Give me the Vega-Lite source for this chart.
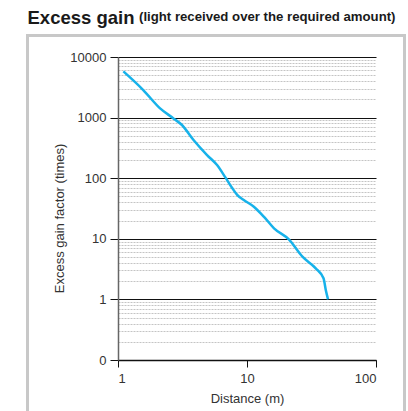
{
  "$schema": "https://vega.github.io/schema/vega-lite/v6.json",
  "autosize": "none",
  "padding": {"left": 118, "top": 57, "right": 32, "bottom": 51},
  "width": 258,
  "height": 303,
  "background": "white",
  "title": {
    "text": "(light received over the required amount)",
    "anchor": "start",
    "frame": "group",
    "dx": 21,
    "offset": 0,
    "dy": 15,
    "font": "Liberation Sans",
    "fontSize": 13.2,
    "fontWeight": "bold",
    "color": "#1a1a1a"
  },
  "data": {
    "values": [
      {"distance": 1.1, "gain": 5800},
      {"distance": 1.57, "gain": 2850},
      {"distance": 2.12, "gain": 1420},
      {"distance": 2.69, "gain": 970},
      {"distance": 3.13, "gain": 755},
      {"distance": 3.85, "gain": 427},
      {"distance": 4.9, "gain": 241},
      {"distance": 5.86, "gain": 165},
      {"distance": 6.8, "gain": 103},
      {"distance": 7.67, "gain": 69},
      {"distance": 8.39, "gain": 53},
      {"distance": 9.44, "gain": 43.7},
      {"distance": 11.3, "gain": 33.9},
      {"distance": 13.5, "gain": 23.2},
      {"distance": 16.2, "gain": 14.9},
      {"distance": 21.1, "gain": 9.8},
      {"distance": 26.9, "gain": 5.07},
      {"distance": 34.1, "gain": 3.26},
      {"distance": 39.2, "gain": 2.23},
      {"distance": 40.8, "gain": 1.43},
      {"distance": 42.5, "gain": 1.0}
    ]
  },
  "encoding": {
    "x": {
      "field": "distance",
      "type": "quantitative",
      "scale": {"type": "log", "domain": [1, 100], "nice": false},
      "axis": {
        "title": "Distance (m)",
        "values": [1, 10, 100],
        "format": "d",
        "grid": false,
        "domainColor": "#111",
        "domainWidth": 1.5,
        "tickColor": "#111",
        "tickWidth": 1,
        "tickSize": 7,
        "labelPadding": 5,
        "labelFont": "Liberation Sans",
        "labelFontSize": 13,
        "labelColor": "#333",
        "titleFont": "Liberation Sans",
        "titleFontSize": 13,
        "titleFontWeight": "normal",
        "titleColor": "#333",
        "titlePadding": 7
      }
    },
    "y": {
      "field": "gain",
      "type": "quantitative",
      "scale": {"type": "log", "domain": [0.1, 10000], "nice": false},
      "axis": {
        "title": "Excess gain factor (times)",
        "values": [0.1, 0.2, 0.3, 0.4, 0.5, 0.6, 0.7, 0.8, 0.9, 1, 2, 3, 4, 5, 6, 7, 8, 9, 10, 20, 30, 40, 50, 60, 70, 80, 90, 100, 200, 300, 400, 500, 600, 700, 800, 900, 1000, 2000, 3000, 4000, 5000, 6000, 7000, 8000, 9000, 10000],
        "labelExpr": "indexof([0.1, 1, 10, 100, 1000, 10000], datum.value) >= 0 ? format(datum.value, '.0f') : ''",
        "grid": true,
        "gridColor": {"condition": {"test": "indexof([0.1, 1, 10, 100, 1000, 10000], datum.value) >= 0", "value": "#111"}, "value": "#c4c4c4"},
        "gridDash": {"condition": {"test": "indexof([0.1, 1, 10, 100, 1000, 10000], datum.value) >= 0", "value": []}, "value": [2, 1]},
        "gridWidth": 1,
        "domainColor": "#666",
        "domainWidth": 1.5,
        "tickColor": "#111",
        "tickOpacity": {"condition": {"test": "indexof([0.1, 1, 10, 100, 1000, 10000], datum.value) >= 0", "value": 1}, "value": 0},
        "tickSize": 8,
        "labelPadding": 4,
        "labelFont": "Liberation Sans",
        "labelFontSize": 13,
        "labelColor": "#333",
        "titleFont": "Liberation Sans",
        "titleFontSize": 13,
        "titleFontWeight": "normal",
        "titleColor": "#333",
        "titlePadding": 3,
        "titleY": 161
      }
    }
  },
  "layer": [
    {
      "mark": {"type": "point", "opacity": 0},
      "encoding": {
        "color": {
          "field": "gain",
          "type": "quantitative",
          "scale": {"range": ["rgba(255,255,255,0)", "rgba(255,255,255,0)"]},
          "legend": {
            "orient": "none",
            "legendX": -90.5,
            "legendY": -48,
            "direction": "vertical",
            "gradientLength": 380,
            "gradientThickness": 377,
            "gradientStrokeColor": "#c8c8c8",
            "gradientStrokeWidth": 3,
            "title": "Excess gain",
            "titleOrient": "top",
            "titleAnchor": "start",
            "titleFont": "Liberation Sans",
            "titleFontSize": 18.5,
            "titleFontWeight": "bold",
            "titleColor": "#1a1a1a",
            "titlePadding": 8,
            "titleLimit": 300,
            "padding": 0,
            "labelExpr": "''",
            "labelOpacity": 0,
            "tickCount": 2
          }
        }
      }
    },
    {
      "mark": {"type": "line", "color": "#17b2ea", "strokeWidth": 2.5, "interpolate": "monotone"}
    }
  ],
  "config": {
    "view": {"stroke": null},
    "legend": {"gradientVerticalMaxLength": 420, "gradientVerticalMinLength": 10}
  }
}
